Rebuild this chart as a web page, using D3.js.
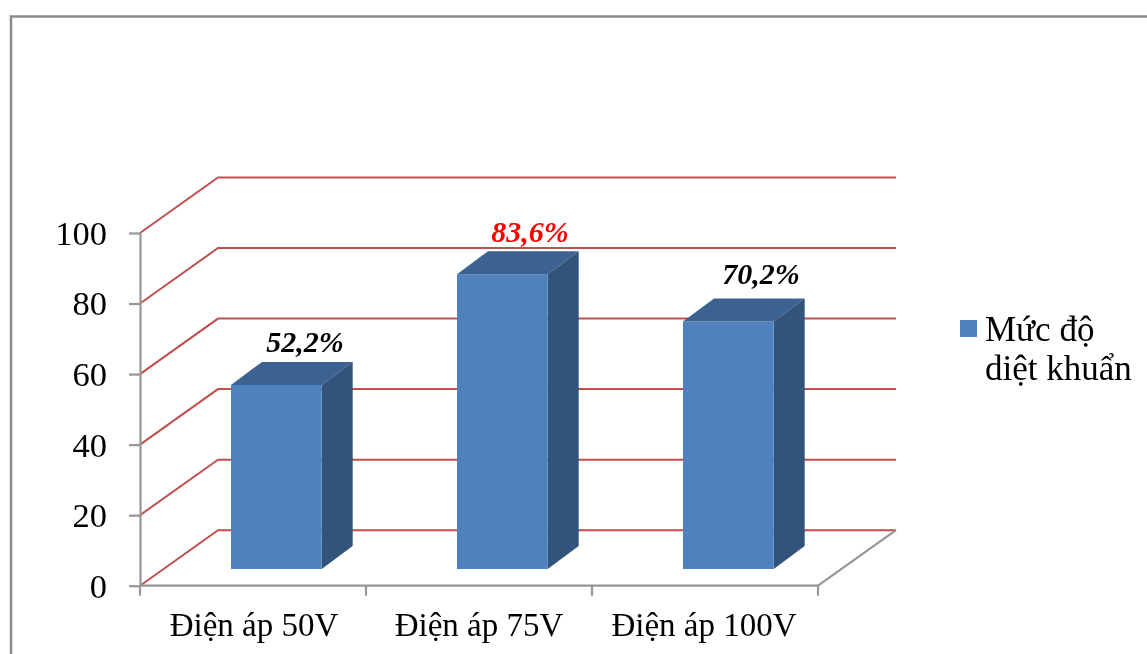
<!DOCTYPE html>
<html><head><meta charset="utf-8">
<script src="https://cdn.jsdelivr.net/npm/d3@7"></script>
<style>html,body{margin:0;padding:0;background:#fff;overflow:hidden}svg{display:block;filter:blur(0.4px)}text{font-family:"Liberation Serif",serif}</style>
</head><body><svg id="c" width="1147" height="654"></svg>
<script>
const categories = ["Điện áp 50V","Điện áp 75V","Điện áp 100V"];
const seriesValues = [52.2,83.6,70.2];
const valueLabels = ["52,2%","83,6%","70,2%"];
const labelColors = ["#000000","#ff0000","#000000"];
const yTicks = [0,20,40,60,80,100];
const legendLines = ["Mức độ","diệt khuẩn"];

const svg = d3.select("#c");
const x = d3.scaleBand().domain(categories).range([140,818]).paddingInner(0).paddingOuter(0);
const y = d3.scaleLinear().domain([0,100]).range([585.7,233]);
const wallDx = 78, wallDy = -55.5;
const barShiftX = 23, barShiftY = -16.7, barDepthX = 31, barDepthY = -23;
const barW = 90.7;
// hand placement of the data labels, per bar
const labelNudgeX = [74,73,78], labelNudgeY = [-33,-32,-37.5];

svg.append("path").attr("d","M11,654V16.5H1147").attr("fill","none").attr("stroke","#8c8c8c").attr("stroke-width",2.5);

svg.append("g").selectAll("path").data(yTicks).join("path")
  .attr("d",d=>`M${x.range()[0]},${y(d)}L${x.range()[0]+wallDx},${y(d)+wallDy}H${x.range()[1]+wallDx}`)
  .attr("fill","none").attr("stroke","#c0504d").attr("stroke-width",2);

const ax = svg.append("g").attr("stroke","#969696").attr("stroke-width",2.2).attr("fill","none");
ax.append("path").attr("d",`M${x.range()[1]},${y(0)}L${x.range()[1]+wallDx},${y(0)+wallDy}`);
const yAxis = d3.axisLeft(y).tickValues(yTicks).tickSize(11).tickPadding(6).tickSizeOuter(0);
const gy = svg.append("g").attr("transform",`translate(140,0)`).call(yAxis);
gy.selectAll("line,path").attr("stroke","#969696").attr("stroke-width",2.2);
gy.selectAll("text").attr("font-size",34.5).attr("fill","#000").attr("x",-33).attr("text-anchor","end").attr("dy","0.33em");
gy.attr("font-family",null);

const xEdges = categories.map(c=>x(c)).concat(x.range()[1]);
const gx = svg.append("g");
gx.append("path").attr("d",`M${x.range()[0]},${y(0)}H${x.range()[1]}`).attr("stroke","#969696").attr("stroke-width",2.2);
gx.selectAll("line").data(xEdges).join("line").attr("x1",d=>d).attr("x2",d=>d).attr("y1",y(0)).attr("y2",y(0)+10).attr("stroke","#969696").attr("stroke-width",2.2);
gx.selectAll("text").data(categories).join("text").attr("x",d=>x(d)+x.bandwidth()/2+(d===categories[2]?-1:0)+(d===categories[0]?1:0)).attr("y",636).attr("text-anchor","middle").attr("font-size",33).attr("fill","#000").text(d=>d);

const bars = svg.append("g").selectAll("g").data(categories).join("g");
const bx = c => x(c)+(x.bandwidth()-90)/2+barShiftX;
const by0 = y(0)+barShiftY;
const by = i => y(seriesValues[i])+barShiftY;
bars.append("path").attr("fill","#3b6291").attr("d",(c,i)=>`M${bx(c)},${by(i)}l${barDepthX},${barDepthY}h${barW}l${-barDepthX},${-barDepthY}z`);
bars.append("path").attr("fill","#31537c").attr("d",(c,i)=>`M${bx(c)+barW},${by(i)}l${barDepthX},${barDepthY}V${by0+barDepthY}l${-barDepthX},${-barDepthY}z`);
bars.append("rect").attr("x",bx).attr("y",(c,i)=>by(i)).attr("width",barW).attr("height",(c,i)=>by0-by(i)).attr("fill","#4f81bd");

svg.append("g").selectAll("text").data(categories).join("text")
  .attr("x",(c,i)=>bx(c)+labelNudgeX[i]).attr("y",(c,i)=>by(i)+labelNudgeY[i])
  .attr("text-anchor","middle").attr("font-size",30).attr("font-weight","bold").attr("font-style","italic")
  .attr("fill",(c,i)=>labelColors[i]).text((c,i)=>valueLabels[i]);

svg.append("rect").attr("x",960).attr("y",320).attr("width",17).attr("height",17).attr("fill","#4f81bd");
svg.append("g").selectAll("text").data(legendLines).join("text").attr("x",985).attr("y",(d,i)=>341+i*38.5).attr("font-size",35).attr("fill","#000").text(d=>d);
</script></body></html>
